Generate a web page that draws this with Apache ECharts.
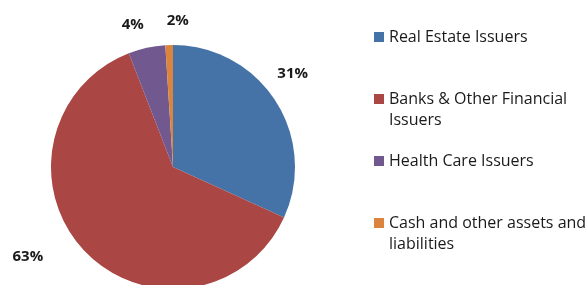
<!DOCTYPE html>
<html>
<head>
<meta charset="utf-8">
<script src="https://cdn.jsdelivr.net/npm/echarts@6/dist/echarts.min.js"></script>
<style>
  html, body { margin: 0; padding: 0; background: #fff; }
  #chart { width: 586px; height: 285px; }
</style>
</head>
<body>
<div id="chart"></div>
<script>
// sector names as shown in the legend (\n = where the legend wraps)
const sectors = ['Real Estate Issuers', 'Banks & Other Financial\nIssuers', 'Health Care Issuers', 'Cash and other assets and\nliabilities'];
// share of portfolio
const weights = [31.8, 62.3, 4.9, 1.0];
// percentages printed next to the slices
const pctLabels = ['31%', '63%', '4%', '2%'];
const colors = ['#4572A7', '#AA4643', '#71588F', '#DB843D'];
// nudges so the labels sit where excel put them
const labelNudge = [[-15, -20], [-26, -4], [5, -9], [25, -10]];

const chart = echarts.init(document.getElementById('chart'));

// legend: coloured square sits on the first line of each entry
let rich = {
    t: { fontSize: 16, lineHeight: 21, color: '#1a1a1a', fontFamily: 'Open Sans' },
    pad: { width: 15, height: 10 }
};
colors.forEach((c, i) => {
    rich['sq' + i] = { width: 10, height: 10, backgroundColor: c, verticalAlign: 'middle' };
    rich['gap' + i] = { width: 5 };
});

const seriesData = sectors.map((name, i) => ({
    name: name,
    value: weights[i],
    itemStyle: { color: colors[i] }
}));

const option = {
    animation: false,
    legend: {
        orient: 'vertical',
        left: 364,
        top: 24,
        itemWidth: 0,
        itemHeight: 0,
        itemGap: 25,
        selectedMode: false,
        data: sectors,
        formatter: function (name) {
            const i = sectors.indexOf(name);
            const lines = name.split('\n');
            let s = '{sq' + i + '|}{gap' + i + '|}{t|' + lines[0] + '}';
            s += '\n{pad|}{t|' + (lines[1] || ' ') + '}';
            return s;
        },
        textStyle: { rich: rich }
    },
    series: [{
        type: 'pie',
        center: [173, 167],
        radius: 122,
        startAngle: 90,
        clockwise: true,
        avoidLabelOverlap: false,
        data: seriesData,
        label: {
            show: true,
            position: 'outside',
            formatter: p => pctLabels[p.dataIndex],
            fontFamily: 'Open Sans',
            fontWeight: 'bold',
            fontSize: 15,
            color: '#1a1a1a'
        },
        labelLine: { show: false, length: 14, length2: 0 },
        labelLayout: function (p) {
            return { dx: labelNudge[p.dataIndex][0], dy: labelNudge[p.dataIndex][1] };
        }
    }]
};

chart.setOption(option);
</script>
</body>
</html>
